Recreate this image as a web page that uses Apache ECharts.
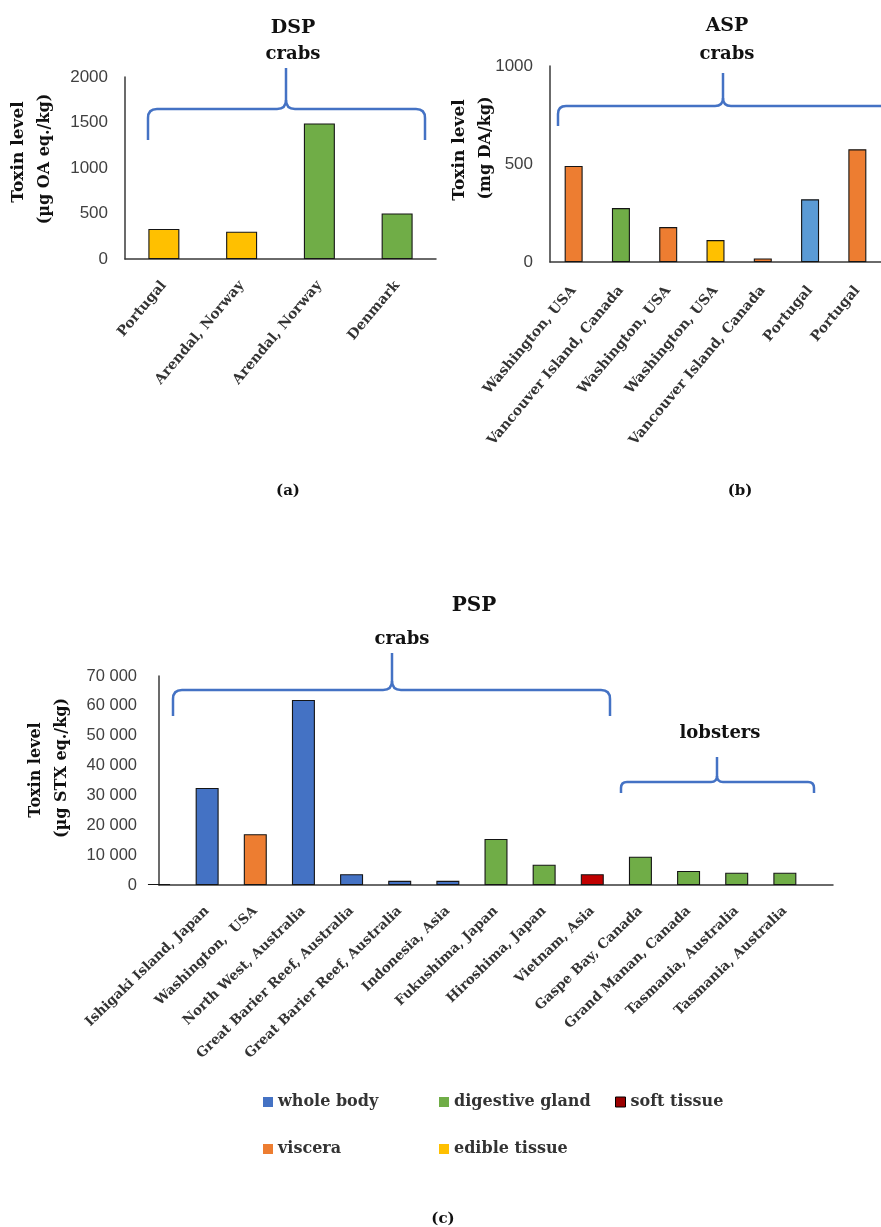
<!DOCTYPE html>
<html>
<head>
<meta charset="utf-8">
<script src="https://cdn.jsdelivr.net/npm/echarts@6/dist/echarts.min.js"></script>
<style>
html,body{margin:0;padding:0;background:#fff;}
#c{width:881px;height:1227px;}
</style>
</head>
<body>
<div id="c"></div>
<script>
// ---------------- data ----------------
// (a) DSP – crabs
const dspSites  = ['Portugal', 'Arendal, Norway', 'Arendal, Norway', 'Denmark'];
const dspValues = [330, 300, 1490, 500];
const dspTissue = ['edible tissue', 'edible tissue', 'digestive gland', 'digestive gland'];

// (b) ASP – crabs
const aspSites  = ['Washington, USA', 'Vancouver Island, Canada', 'Washington, USA', 'Washington, USA',
                   'Vancouver Island, Canada', 'Portugal', 'Portugal'];
const aspValues = [490, 275, 178, 112, 18, 320, 575];
const aspTissue = ['viscera', 'digestive gland', 'viscera', 'edible tissue', 'viscera', 'whole body', 'viscera'];

// (c) PSP – crabs and lobsters (first bar carries no label in the original)
const pspSites  = ['', 'Ishigaki Island, Japan', 'Washington,  USA', 'North West, Australia',
                   'Great Barier Reef, Australia', 'Great Barier Reef, Australia', 'Indonesia, Asia',
                   'Fukushima, Japan', 'Hiroshima, Japan', 'Vietnam, Asia', 'Gaspe Bay, Canada',
                   'Grand Manan, Canada', 'Tasmania, Australia', 'Tasmania, Australia'];
const pspValues = [300, 32500, 17000, 62000, 3600, 1400, 1400, 15400, 6800, 3600, 9500, 4700, 4100, 4100];
const pspTissue = ['edible tissue', 'whole body', 'viscera', 'whole body', 'whole body', 'whole body', 'whole body',
                   'digestive gland', 'digestive gland', 'soft tissue', 'digestive gland', 'digestive gland',
                   'digestive gland', 'digestive gland'];

const legendRow1 = ['whole body', 'digestive gland', 'soft tissue'];
const legendRow2 = ['viscera', 'edible tissue'];

const dspTicks = { min: 0, max: 2000, interval: 500 };
const aspTicks = { min: 0, max: 1000, interval: 500 };
const pspTicks = { min: 0, max: 70000, interval: 10000 };

// ---------------- styles ----------------
const palette = {
  'whole body': '#4472C4',
  'viscera': '#ED7D31',
  'edible tissue': '#FFC000',
  'digestive gland': '#70AD47',
  'soft tissue': '#C00000'
};
const aspOverride = { 'whole body': '#5B9BD5' };
const SERIF = 'DejaVu Serif';
const SANS = 'Liberation Sans';
const AXIS_COLOR = '#3a3a3a';
const BRACE = '#4472C4';

function buildSeries(panel, tissues, values, barWidth, override) {
  const order = [];
  tissues.forEach(t => { if (!order.includes(t)) order.push(t); });
  return order.map(t => ({
    type: 'bar',
    name: t,
    xAxisIndex: panel,
    yAxisIndex: panel,
    stack: 'panel' + panel,
    barWidth: barWidth,
    clip: true,
    data: values.map((v, i) => tissues[i] === t ? v : '-'),
    itemStyle: { color: (override && override[t]) || palette[t], borderColor: '#151515', borderWidth: 1.1 },
    emphasis: { disabled: true }
  }));
}

function catAxis(grid, data, rotate, margin, size, extra) {
  return Object.assign({
    type: 'category', gridIndex: grid, data: data,
    axisLine: { show: true, lineStyle: { color: AXIS_COLOR, width: 1.5 } },
    axisTick: { show: false },
    axisLabel: { interval: 0, rotate: rotate, margin: margin, fontFamily: SERIF, fontWeight: 'bold',
                 fontSize: size, color: '#333' }
  }, extra || {});
}
function valAxis(grid, ticks, size, margin, fmt) {
  return {
    type: 'value', gridIndex: grid, min: ticks.min, max: ticks.max, interval: ticks.interval,
    axisLine: { show: true, lineStyle: { color: AXIS_COLOR, width: 1.5 } },
    axisTick: { show: false },
    splitLine: { show: false },
    axisLabel: { fontFamily: SANS, fontSize: size, color: '#404040', margin: margin, formatter: fmt }
  };
}
const plainNumber = v => String(v);
const spaceThousands = v => String(v).replace(/\B(?=(\d{3})+(?!\d))/g, ' ');

// curly brace built from straight lines and quadratic curves
function brace(x1, x2, xm, yLine, yEnd, yTip, r) {
  const st = { stroke: BRACE, lineWidth: 2.5, fill: null };
  const L = (a, b, c, d) => ({ type: 'line', silent: true, shape: { x1: a, y1: b, x2: c, y2: d }, style: st });
  const Q = (a, b, cx, cy, c, d) => ({ type: 'bezierCurve', silent: true,
                                      shape: { x1: a, y1: b, cpx1: cx, cpy1: cy, x2: c, y2: d }, style: st });
  return { type: 'group', silent: true, children: [
    L(x1, yEnd, x1, yLine + r),
    Q(x1, yLine + r, x1, yLine, x1 + r, yLine),
    L(x1 + r, yLine, xm - r, yLine),
    Q(xm - r, yLine, xm, yLine, xm, yLine - r),
    L(xm, yLine - r, xm, yTip),
    Q(xm, yLine - r, xm, yLine, xm + r, yLine),
    L(xm + r, yLine, x2 - r, yLine),
    Q(x2 - r, yLine, x2, yLine, x2, yLine + r),
    L(x2, yLine + r, x2, yEnd)
  ] };
}
function txt(x, y, text, size, rot, color) {
  return { type: 'text', x: x, y: y, rotation: rot || 0, silent: true,
           style: { text: text, font: `bold ${size}px "${SERIF}"`, fill: color || '#111',
                    textAlign: 'center', textVerticalAlign: 'middle', align: 'center', verticalAlign: 'middle' } };
}
const V = Math.PI / 2;

function legendItem(name, left, top, extraStyle) {
  return {
    data: [name], left: left, top: top, orient: 'horizontal', selectedMode: false,
    itemWidth: 10, itemHeight: 10, icon: 'rect', padding: 0,
    itemStyle: Object.assign({ borderWidth: 0 }, extraStyle || {}),
    textStyle: { fontFamily: SERIF, fontWeight: 'bold', fontSize: 16, color: '#333' }
  };
}

const chart = echarts.init(document.getElementById('c'), null, { renderer: 'canvas' });

const option = {
  animation: false,
  backgroundColor: '#fff',
  grid: [
    { left: 125, top: 77, width: 311, height: 182 },
    { left: 550, top: 66, width: 338, height: 196 },
    { left: 159, top: 676, width: 674, height: 209 }
  ],
  xAxis: [
    catAxis(0, dspSites, 50, 24, 14),
    catAxis(1, aspSites, 50, 26, 14),
    catAxis(2, pspSites.concat(['']), 44, 24, 13.5, { boundaryGap: false })
  ],
  yAxis: [
    valAxis(0, dspTicks, 17, 17, plainNumber),
    valAxis(1, aspTicks, 17, 17, plainNumber),
    valAxis(2, pspTicks, 16.5, 22, spaceThousands)
  ],
  legend: [
    legendItem(legendRow1[0], 263, 1094),
    legendItem(legendRow1[1], 439, 1094),
    legendItem(legendRow1[2], 615, 1094, { borderWidth: 1, borderColor: '#000', color: '#9B0000' }),
    legendItem(legendRow2[0], 263, 1141),
    legendItem(legendRow2[1], 439, 1141)
  ],
  series: [].concat(
    buildSeries(2, pspTissue, pspValues, 23),
    buildSeries(0, dspTissue, dspValues, 31),
    buildSeries(1, aspTissue, aspValues, 18, aspOverride)
  ),
  graphic: [
    // panel titles
    txt(293, 28, 'DSP', 19), txt(293, 54, 'crabs', 18),
    txt(727, 26, 'ASP', 19), txt(727, 54, 'crabs', 18),
    txt(474, 606, 'PSP', 20), txt(402, 639, 'crabs', 18), txt(720, 733, 'lobsters', 18),
    // braces
    brace(148, 425, 286, 109, 140, 68, 9),
    brace(558, 888, 723, 106, 126, 73, 8),
    brace(173, 610, 392, 690, 716, 653, 9),
    brace(621, 814, 717, 782, 793, 757, 6),
    // y-axis titles
    txt(19, 152, 'Toxin level', 17, V), txt(45, 159, '(µg OA eq./kg)', 16, V),
    txt(460, 150, 'Toxin level', 17, V), txt(486, 148, '(mg DA/kg)', 16, V),
    txt(36, 770, 'Toxin level', 16, V), txt(62, 768, '(µg STX eq./kg)', 16, V),
    // sub-captions
    txt(288, 491, '(a)', 15), txt(740, 491, '(b)', 15), txt(443, 1219, '(c)', 15)
  ]
};
chart.setOption(option);
</script>
</body>
</html>
